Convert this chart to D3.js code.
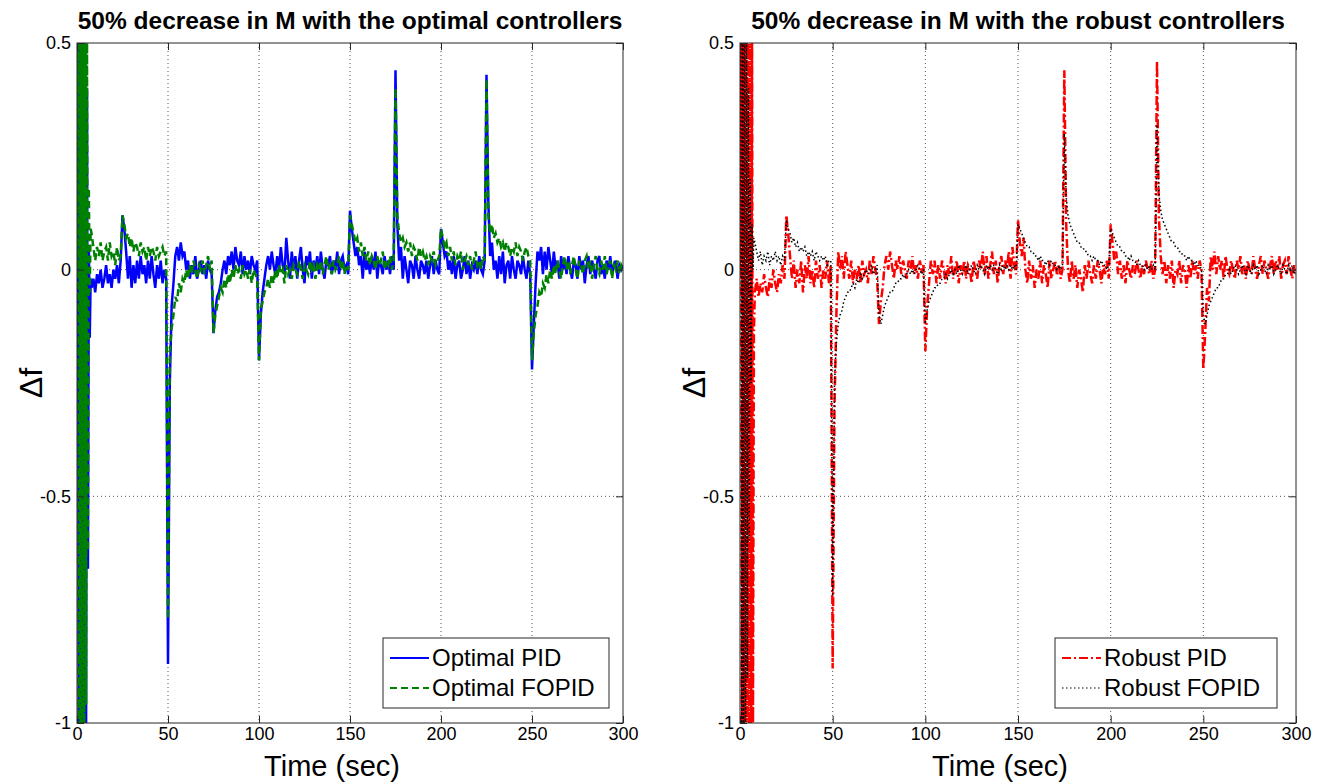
<!DOCTYPE html>
<html>
<head>
<meta charset="utf-8">
<script src="https://cdn.jsdelivr.net/npm/d3@7"></script>
<style>
  body { margin: 0; background: #fff; }
  text { font-family: "Liberation Sans", Arial, sans-serif; fill: #000; }
</style>
</head>
<body>
<div id="chart"></div>
<script>
// sampling: 0.5 s during the start-up transient, then 1 s
const tStart = d3.range(0, 8, 0.5);
const tTail = d3.range(8, 301);
const time = tStart.concat(tTail);

const xTicks = [0, 50, 100, 150, 200, 250, 300];
const yTicks = [0.5, 0, -0.5, -1];
const yTickLabels = ["0.5", "0", "-0.5", "-1"];

// Optimal PID (blue)
const optPidStart = [0, 0.9, -1.3, 1.0, -1.3, 0.9, -1.25, 0.8, -1.1, 0.7, -1.0, 0.4, -0.66, 0.05, -0.15, -0.02];
const optPidTail = [
  -0.04, -0.02,
  -0.05, -0.01, -0.03, 0.0, -0.04, -0.02, 0.01, -0.03, -0.01, -0.04,
  0.0, -0.02, 0.01, -0.03, 0.02, 0.12, 0.09, 0.04, -0.02, 0.03,
  -0.04, 0.01, -0.03, 0.02, -0.02, 0.03, -0.01, 0.01, -0.03, 0.02,
  -0.02, 0.03, -0.01, -0.04, 0.01, -0.02, 0.02, -0.03, 0.0, -0.02,
  -0.87, -0.25, -0.08, -0.03, 0.03, 0.05, 0.02, 0.06, 0.03, 0.04,
  0.0, 0.02, -0.02, 0.01, -0.01, 0.03, -0.02, 0.0, 0.02, -0.01,
  0.01, -0.02, 0.02, 0.0, -0.01, -0.14, -0.09, -0.06, -0.05, -0.03,
  0.0, 0.02, -0.01, 0.03, 0.01, 0.04, 0.0, 0.05, 0.02, 0.01,
  0.04, -0.01, 0.03, 0.0, 0.02, -0.01, 0.03, 0.01, 0.0, 0.02,
  -0.2, -0.1, -0.05, -0.02, 0.01, 0.03, 0.0, 0.04, 0.01, -0.01,
  0.03, 0.0, 0.05, 0.01, -0.01, 0.07, 0.02, -0.02, 0.04, 0.0,
  0.03, -0.02, 0.02, 0.05, 0.0, -0.03, 0.03, 0.01, 0.04, -0.02,
  0.02, 0.0, 0.03, -0.01, 0.04, 0.0, -0.02, 0.02, 0.01, 0.03,
  -0.01, 0.02, 0.0, 0.04, -0.01, 0.02, 0.03, 0.0, 0.01, -0.01,
  0.13, 0.09, 0.06, 0.03, 0.05, 0.01, 0.03, -0.02, 0.04, 0.0,
  0.02, -0.01, 0.03, 0.0, 0.04, -0.02, 0.02, 0.01, -0.01, 0.03,
  0.0, 0.02, -0.01, 0.03, 0.0, 0.44, 0.1, 0.02, 0.05, -0.02,
  0.03, 0.0, -0.03, 0.02, 0.01, -0.02, 0.03, 0.0, -0.02, 0.02,
  0.01, -0.01, 0.02, -0.02, 0.01, 0.03, -0.01, 0.02, 0.0, -0.01,
  0.09, 0.06, 0.03, 0.04, 0.0, 0.02, -0.01, 0.03, -0.02, 0.01,
  0.02, -0.02, 0.0, 0.03, -0.01, 0.02, -0.02, 0.01, 0.0, 0.02,
  -0.01, 0.03, 0.0, -0.01, 0.02, 0.43, 0.15, 0.03, 0.06, 0.0,
  0.02, -0.02, 0.03, -0.01, 0.04, -0.03, 0.01, 0.02, -0.02, 0.03,
  0.0, -0.02, 0.02, 0.01, -0.01, 0.03, 0.0, -0.02, 0.02, -0.01,
  -0.22, -0.12, -0.03, 0.04, 0.02, 0.05, -0.01, 0.04, 0.0, 0.05,
  0.02, -0.01, 0.04, 0.0, 0.02, -0.02, 0.03, 0.0, 0.02, -0.01,
  0.03, 0.0, -0.02, 0.02, 0.01, -0.02, 0.03, 0.0, 0.02, -0.03,
  0.01, 0.03, -0.01, 0.02, 0.0, -0.02, 0.02, 0.03, -0.01, 0.01,
  -0.02, 0.02, 0.0, 0.03, -0.01, 0.01, 0.02, -0.02, 0.01, 0.0,
  0.01];

// Optimal FOPID (green)
const optFopidStart = [0, 0.8, -1.2, 1.1, -1.2, 1.0, -1.1, 0.9, -1.05, 0.7, -0.96, 0.5, -0.62, 0.18, -0.05, 0.09];
const optFopidTail = [
  0.08, 0.05,
  0.02, 0.05, 0.03, 0.06, 0.02, 0.04, 0.05, 0.02, 0.06, 0.03,
  0.04, 0.01, 0.05, 0.02, 0.03, 0.12, 0.1, 0.07, 0.08, 0.05,
  0.07, 0.04, 0.06, 0.05, 0.03, 0.06, 0.04, 0.05, 0.02, 0.05,
  0.03, 0.05, 0.04, 0.02, 0.05, 0.03, 0.04, 0.05, 0.03, 0.04,
  -0.77, -0.18, -0.13, -0.1, -0.06, -0.07, -0.03, -0.05, -0.02, -0.03,
  0.0, -0.02, 0.01, -0.01, 0.02, 0.0, -0.02, 0.01, 0.0, 0.02,
  -0.01, 0.01, 0.03, 0.0, 0.02, -0.14, -0.1, -0.08, -0.06, -0.04,
  -0.05, -0.02, -0.04, -0.01, -0.03, 0.0, -0.02, 0.01, -0.01, 0.0,
  -0.02, 0.01, -0.01, 0.0, -0.02, 0.0, -0.03, 0.0, -0.01, -0.02,
  -0.2, -0.09, -0.07, -0.05, -0.04, -0.02, -0.04, -0.01, -0.03, 0.0,
  -0.02, 0.01, -0.01, 0.0, -0.03, 0.01, -0.01, 0.0, -0.02, 0.01,
  0.0, -0.01, 0.02, 0.0, -0.02, 0.01, 0.0, -0.01, 0.02, 0.0,
  0.01, -0.02, 0.01, 0.0, 0.02, -0.01, 0.01, 0.03, 0.0, 0.01,
  -0.01, 0.02, 0.0, 0.01, 0.03, 0.0, 0.02, -0.01, 0.01, 0.0,
  0.12, 0.1, 0.08, 0.06, 0.07, 0.04, 0.06, 0.03, 0.05, 0.02,
  0.04, 0.01, 0.03, 0.02, 0.0, 0.03, 0.01, 0.02, 0.04, 0.0,
  0.02, 0.01, 0.03, 0.0, 0.02, 0.4, 0.12, 0.08, 0.06, 0.07,
  0.05, 0.06, 0.04, 0.06, 0.03, 0.05, 0.04, 0.02, 0.05, 0.03,
  0.04, 0.02, 0.03, 0.01, 0.03, 0.02, 0.04, 0.01, 0.02, 0.03,
  0.09, 0.07, 0.05, 0.06, 0.03, 0.05, 0.02, 0.04, 0.01, 0.03,
  0.02, 0.04, 0.0, 0.02, 0.03, 0.01, 0.03, 0.0, 0.02, 0.04,
  0.01, 0.02, 0.0, 0.03, 0.02, 0.42, 0.12, 0.08, 0.1, 0.07,
  0.08, 0.06, 0.07, 0.05, 0.06, 0.04, 0.06, 0.05, 0.03, 0.05,
  0.04, 0.06, 0.03, 0.05, 0.04, 0.02, 0.04, 0.05, 0.03, 0.02,
  -0.2, -0.14, -0.1, -0.08, -0.05, -0.06, -0.03, -0.04, -0.01, -0.03,
  0.0, -0.02, 0.01, -0.01, 0.02, 0.0, -0.02, 0.01, 0.03, 0.0,
  0.02, -0.01, 0.01, 0.03, 0.0, -0.02, 0.02, 0.01, -0.01, 0.02,
  0.03, 0.0, 0.02, -0.02, 0.01, 0.03, 0.0, -0.01, 0.02, 0.0,
  0.03, -0.01, 0.01, 0.02, -0.02, 0.01, 0.0, 0.02, -0.01, 0.01,
  0.0];

// Robust PID (red)
const robPidStart = [0, 0.9, -1.3, 1.0, -1.3, 1.0, -1.2, 0.9, -1.2, 0.8, -1.1, 0.7, -1.05, 0.6, -1.0, -0.14];
const robPidTail = [
  -0.05, -0.02,
  -0.06, -0.03, -0.05, -0.01, -0.04, -0.06, -0.02, -0.04, 0.0, -0.03,
  -0.05, -0.01, -0.03, 0.01, -0.02, 0.12, 0.08, 0.03, -0.02, 0.02,
  -0.04, 0.0, -0.03, 0.02, -0.05, 0.01, -0.02, 0.03, -0.03, 0.0,
  -0.04, 0.02, -0.02, 0.01, -0.04, 0.0, -0.02, 0.02, -0.03, 0.01,
  -0.88, -0.3, -0.1, 0.04, 0.0, 0.03, -0.02, 0.04, 0.01, -0.02,
  0.02, -0.03, 0.0, -0.02, 0.01, -0.03, 0.02, -0.01, 0.0, -0.03,
  0.02, -0.01, 0.03, 0.0, -0.02, -0.12, -0.07, -0.04, 0.01, 0.03,
  0.0, 0.04, 0.01, -0.02, 0.02, 0.0, 0.03, -0.01, 0.02, 0.0,
  -0.02, 0.02, 0.0, 0.03, -0.01, 0.01, -0.02, 0.02, 0.0, 0.01,
  -0.18, -0.08, -0.03, 0.02, -0.01, 0.02, -0.03, 0.01, -0.02, 0.02,
  0.0, -0.03, 0.01, -0.01, 0.03, -0.02, 0.0, 0.02, -0.03, 0.01,
  -0.01, 0.02, -0.02, 0.01, 0.0, -0.03, 0.02, 0.0, -0.02, 0.02,
  0.0, 0.04, -0.01, 0.03, -0.02, 0.01, 0.04, -0.01, 0.02, -0.03,
  0.01, 0.03, -0.01, 0.02, 0.0, 0.04, -0.02, 0.05, 0.01, -0.01,
  0.11, 0.06, 0.03, 0.07, 0.0, -0.03, 0.02, -0.02, 0.01, -0.04,
  0.0, -0.02, 0.02, -0.03, 0.01, -0.01, -0.04, 0.02, -0.02, 0.0,
  0.02, -0.01, 0.01, -0.02, 0.0, 0.44, 0.1, 0.0, -0.03, 0.02,
  -0.02, 0.01, -0.04, 0.0, -0.02, -0.05, 0.01, -0.02, 0.02, -0.01,
  -0.03, 0.01, -0.02, 0.02, 0.0, -0.03, 0.01, -0.01, 0.02, -0.02,
  0.1, 0.06, 0.02, 0.04, -0.01, 0.02, -0.02, 0.01, -0.03, 0.02,
  0.0, -0.02, 0.01, -0.01, 0.02, 0.0, -0.02, 0.01, -0.01, 0.02,
  0.0, -0.01, 0.02, -0.02, 0.0, 0.46, 0.12, 0.03, -0.01, 0.02,
  -0.03, 0.01, -0.02, 0.02, -0.04, 0.0, -0.01, 0.02, -0.03, 0.01,
  0.0, -0.04, 0.01, -0.02, 0.02, -0.01, 0.01, -0.02, 0.02, 0.0,
  -0.22, -0.14, -0.04, -0.07, 0.03, 0.0, 0.04, -0.01, 0.03, 0.0,
  0.02, -0.02, 0.03, 0.0, -0.01, 0.02, 0.0, -0.02, 0.02, 0.0,
  0.03, -0.01, 0.01, -0.02, 0.02, 0.0, -0.01, 0.03, 0.0, -0.02,
  0.01, 0.03, -0.01, 0.02, 0.0, -0.02, 0.01, 0.03, -0.01, 0.02,
  0.0, 0.03, -0.02, 0.01, 0.02, -0.01, 0.03, 0.0, -0.02, 0.01,
  -0.01];

// Robust FOPID (black)
const robFopidStart = [0, 0.8, -1.2, 0.9, -1.2, 0.8, -1.1, 0.6, -0.9, 0.4, -0.6, 0.2, -0.25, 0.1, 0.0, 0.07];
const robFopidTail = [
  0.06, 0.04,
  0.02, 0.04, 0.01, 0.03, 0.02, 0.04, 0.01, 0.03, 0.02, 0.04,
  0.02, 0.03, 0.01, 0.03, 0.02, 0.11, 0.09, 0.08, 0.06, 0.07,
  0.05, 0.06, 0.04, 0.05, 0.04, 0.05, 0.03, 0.04, 0.03, 0.04,
  0.02, 0.04, 0.03, 0.02, 0.03, 0.02, 0.03, 0.01, 0.02, 0.02,
  -0.72, -0.25, -0.16, -0.12, -0.1, -0.09, -0.07, -0.06, -0.05, -0.05,
  -0.04, -0.03, -0.04, -0.02, -0.03, -0.01, -0.02, -0.01, 0.0, -0.01,
  0.0, 0.01, -0.01, 0.0, 0.01, -0.1, -0.12, -0.1, -0.08, -0.07,
  -0.06, -0.05, -0.05, -0.04, -0.03, -0.03, -0.02, -0.02, -0.01, -0.02,
  -0.01, 0.0, -0.01, 0.0, -0.01, 0.0, 0.01, 0.0, -0.01, 0.0,
  -0.12, -0.09, -0.07, -0.06, -0.05, -0.04, -0.04, -0.03, -0.03, -0.02,
  -0.02, -0.01, -0.02, -0.01, 0.0, -0.01, 0.0, -0.01, 0.01, 0.0,
  -0.01, 0.0, 0.01, -0.01, 0.0, 0.01, 0.0, -0.01, 0.01, 0.0,
  0.01, 0.0, -0.01, 0.01, 0.0, 0.01, 0.0, 0.01, 0.0, -0.01,
  0.01, 0.0, 0.01, 0.0, 0.01, 0.0, 0.01, 0.0, 0.01, 0.0,
  0.1, 0.09, 0.08, 0.07, 0.06, 0.05, 0.05, 0.04, 0.04, 0.03,
  0.03, 0.02, 0.03, 0.02, 0.02, 0.01, 0.02, 0.01, 0.02, 0.01,
  0.01, 0.0, 0.01, 0.0, 0.01, 0.3, 0.16, 0.12, 0.1, 0.09,
  0.08, 0.07, 0.06, 0.06, 0.05, 0.05, 0.04, 0.04, 0.03, 0.03,
  0.02, 0.03, 0.02, 0.02, 0.01, 0.02, 0.01, 0.01, 0.0, 0.01,
  0.09, 0.08, 0.07, 0.06, 0.05, 0.05, 0.04, 0.04, 0.03, 0.03,
  0.02, 0.03, 0.02, 0.02, 0.01, 0.02, 0.01, 0.01, 0.0, 0.01,
  0.0, 0.01, 0.0, 0.01, 0.0, 0.32, 0.17, 0.13, 0.11, 0.1,
  0.09, 0.08, 0.07, 0.06, 0.06, 0.05, 0.05, 0.04, 0.04, 0.03,
  0.03, 0.02, 0.03, 0.02, 0.02, 0.01, 0.02, 0.01, 0.01, 0.0,
  -0.1, -0.12, -0.1, -0.08, -0.07, -0.06, -0.05, -0.04, -0.04, -0.03,
  -0.02, -0.02, -0.01, -0.01, 0.0, -0.01, 0.0, 0.01, 0.0, -0.01,
  0.0, 0.01, 0.0, -0.01, 0.01, 0.0, -0.01, 0.01, 0.0, 0.01,
  -0.01, 0.0, 0.01, 0.0, -0.01, 0.01, 0.0, 0.01, -0.01, 0.0,
  0.01, 0.0, -0.01, 0.01, 0.0, -0.01, 0.01, 0.0, 0.01, -0.01,
  0.0];

const optimalPid = optPidStart.concat(optPidTail);
const optimalFopid = optFopidStart.concat(optFopidTail);
const robustPid = robPidStart.concat(robPidTail);
const robustFopid = robFopidStart.concat(robFopidTail);

const width = 1326, height = 782;
const plotTop = 43, plotBottom = 723;

const panels = [
  {
    left: 77, right: 623,
    title: "50% decrease in M with the optimal controllers",
    series: [
      { name: "Optimal PID", values: optimalPid, color: "#0000ff", dash: null, w: 2.5 },
      { name: "Optimal FOPID", values: optimalFopid, color: "#008000", dash: "7,4", w: 2.5 }
    ],
    legendX: 383, legendW: 226
  },
  {
    left: 740, right: 1296,
    title: "50% decrease in M with the robust controllers",
    series: [
      { name: "Robust PID", values: robustPid, color: "#ff0000", dash: "9,3,2,3", w: 2.5 },
      { name: "Robust FOPID", values: robustFopid, color: "#000000", dash: "1.5,2.5", w: 1.5 }
    ],
    legendX: 1055, legendW: 222
  }
];

const svg = d3.select("#chart").append("svg")
  .attr("width", width)
  .attr("height", height);

svg.append("rect").attr("width", width).attr("height", height).attr("fill", "#fff");

const yScale = d3.scaleLinear().domain([-1, 0.5]).range([plotBottom, plotTop]);

panels.forEach((p, pi) => {
  const xScale = d3.scaleLinear().domain([0, 300]).range([p.left, p.right]);
  const g = svg.append("g");

  g.append("clipPath").attr("id", "clip" + pi)
    .append("rect")
    .attr("x", p.left).attr("y", plotTop)
    .attr("width", p.right - p.left).attr("height", plotBottom - plotTop);

  // grid
  g.selectAll(".vgrid").data(xTicks.slice(1, -1)).enter().append("line")
    .attr("x1", d => xScale(d)).attr("x2", d => xScale(d))
    .attr("y1", plotTop).attr("y2", plotBottom)
    .attr("stroke", "#555").attr("stroke-width", 1).attr("stroke-dasharray", "1,3");
  g.selectAll(".hgrid").data(yTicks.slice(1, -1)).enter().append("line")
    .attr("x1", p.left).attr("x2", p.right)
    .attr("y1", d => yScale(d)).attr("y2", d => yScale(d))
    .attr("stroke", "#555").attr("stroke-width", 1).attr("stroke-dasharray", "1,3");

  // traces
  const plot = g.append("g").attr("clip-path", "url(#clip" + pi + ")");
  p.series.forEach(s => {
    const line = d3.line()
      .x((d, i) => xScale(time[i]))
      .y(d => yScale(d));
    plot.append("path")
      .datum(s.values)
      .attr("d", line)
      .attr("fill", "none")
      .attr("stroke", s.color)
      .attr("stroke-width", s.w)
      .attr("stroke-dasharray", s.dash)
      .attr("stroke-linejoin", "miter");
  });

  // axes with inward ticks
  const xAxisB = d3.axisBottom(xScale).tickValues(xTicks).tickSizeInner(-7).tickSizeOuter(0).tickPadding(4);
  const xAxisT = d3.axisTop(xScale).tickValues(xTicks).tickSizeInner(-7).tickSizeOuter(0).tickFormat("");
  const yAxisL = d3.axisLeft(yScale).tickValues(yTicks).tickSizeInner(-7).tickSizeOuter(0).tickPadding(6)
    .tickFormat((d, i) => yTickLabels[i]);
  const yAxisR = d3.axisRight(yScale).tickValues(yTicks).tickSizeInner(-7).tickSizeOuter(0).tickFormat("");

  [[xAxisB, "translate(0," + plotBottom + ")"], [xAxisT, "translate(0," + plotTop + ")"],
   [yAxisL, "translate(" + p.left + ",0)"], [yAxisR, "translate(" + p.right + ",0)"]].forEach(a => {
    const ax = g.append("g").attr("transform", a[1]).call(a[0]);
    ax.select(".domain").remove();
    ax.selectAll("line").attr("stroke", "#262626");
    ax.selectAll("text").attr("font-size", 18).attr("fill", "#000")
      .style("font-family", "'Liberation Sans', Arial, sans-serif");
  });

  g.append("rect")
    .attr("x", p.left).attr("y", plotTop)
    .attr("width", p.right - p.left).attr("height", plotBottom - plotTop)
    .attr("fill", "none").attr("stroke", "#262626").attr("stroke-width", 1);

  const cx = (p.left + p.right) / 2;
  g.append("text")
    .attr("x", cx).attr("y", 29)
    .attr("text-anchor", "middle")
    .attr("font-size", 24.5).attr("font-weight", "bold")
    .text(p.title);

  g.append("text")
    .attr("x", cx - 18).attr("y", 775.5)
    .attr("text-anchor", "middle")
    .attr("font-size", 29)
    .text("Time (sec)");

  g.append("text")
    .attr("transform", "translate(" + (p.left - 35) + "," + ((plotTop + plotBottom) / 2) + ") rotate(-90)")
    .attr("text-anchor", "middle")
    .attr("font-size", 32)
    .text("Δf");

  // legend
  const lg = g.append("g");
  lg.append("rect")
    .attr("x", p.legendX).attr("y", 638)
    .attr("width", p.legendW).attr("height", 70)
    .attr("fill", "#fff").attr("stroke", "#262626").attr("stroke-width", 1);
  p.series.forEach((s, i) => {
    const yy = 658 + i * 30;
    lg.append("line")
      .attr("x1", p.legendX + 7).attr("x2", p.legendX + 46)
      .attr("y1", yy).attr("y2", yy)
      .attr("stroke", s.color).attr("stroke-width", s.w === 2.5 ? 2 : 1.2)
      .attr("stroke-dasharray", s.dash);
    lg.append("text")
      .attr("x", p.legendX + 49).attr("y", yy)
      .attr("dy", "0.35em")
      .attr("font-size", 24)
      .text(s.name);
  });
});
</script>
</body>
</html>
